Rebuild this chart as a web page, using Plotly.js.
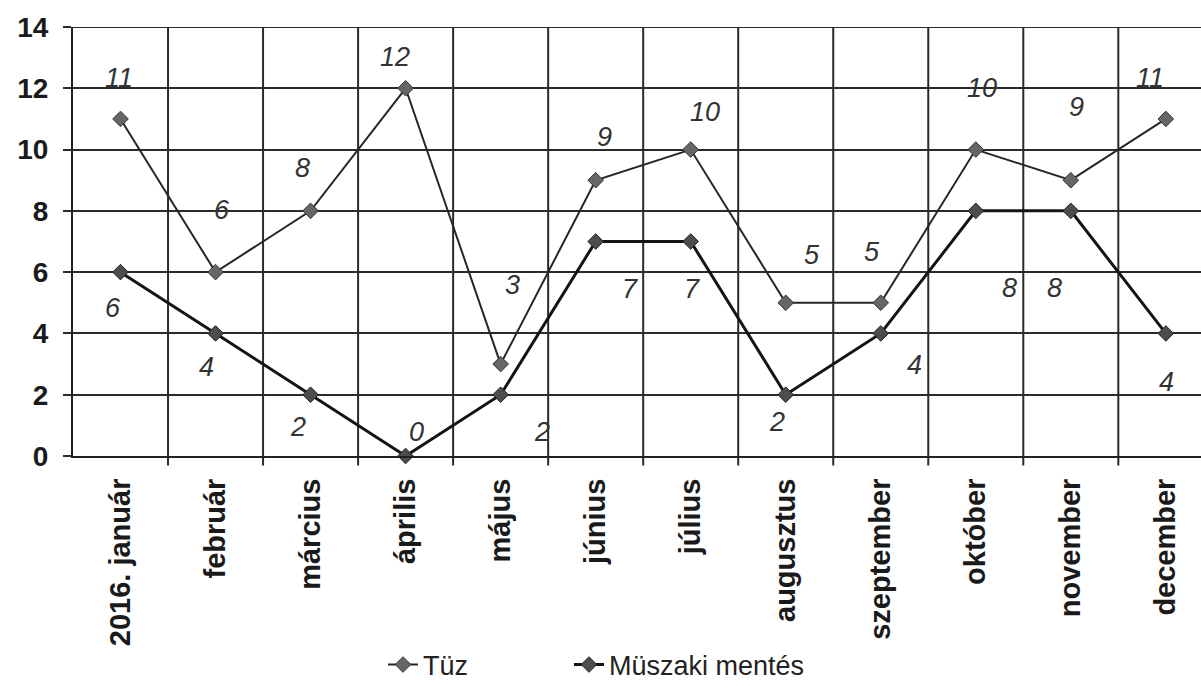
<!DOCTYPE html>
<html>
<head>
<meta charset="utf-8">
<script src="https://cdn.plot.ly/plotly-3.0.1.min.js"></script>
<style>html,body{margin:0;padding:0;background:#fff;}#chart{width:1201px;height:691px;}</style>
</head>
<body>
<div id="chart"></div>
<script>
// ---- data ----
const months = ["2016. január","február","március","április","május","június","július","augusztus","szeptember","október","november","december"];
const tuzValues = [11, 6, 8, 12, 3, 9, 10, 5, 5, 10, 9, 11];
const muszakiValues = [6, 4, 2, 0, 2, 7, 7, 2, 4, 8, 8, 4];
const seriesNames = ["Tüz", "Müszaki mentés"];
const yTicks = [0, 2, 4, 6, 8, 10, 12, 14];

// ---- label offsets (pixels, style only) ----
const tuzLabelShift = [[-2,41],[6,62],[-8,43],[-11,31],[12,79],[9,43],[14,38],[26,48],[-9,51],[6,62],[6,73],[-16,41]];
const muszakiLabelShift = [[-8,-36],[-9,-34],[-13,-32],[11,24],[41,-37],[34,-47],[1,-47],[-9,-27],[34,-32],[34,-77],[-16,-77],[1,-49]];

const FONT = "Liberation Sans, Arial, sans-serif";
const idx = months.map((m, i) => i);

const traces = [
  {
    type: "scatter", mode: "lines+markers", name: seriesNames[0], legend: "legend",
    x: idx, y: tuzValues, cliponaxis: false,
    line: {color: "#262626", width: 2},
    marker: {symbol: "diamond", size: 12, color: "#666", line: {color: "#333", width: 1}}
  },
  {
    type: "scatter", mode: "lines+markers", name: seriesNames[1], legend: "legend2",
    x: idx, y: muszakiValues, cliponaxis: false,
    line: {color: "#141414", width: 3},
    marker: {symbol: "diamond", size: 12, color: "#4a4f4a", line: {color: "#222", width: 1}}
  }
];

const annotations = [];
function addLabels(vals, shifts) {
  vals.forEach((v, i) => {
    annotations.push({
      x: i, y: v, xref: "x", yref: "y", text: String(v), showarrow: false,
      xanchor: "center", yanchor: "middle",
      xshift: shifts[i][0], yshift: shifts[i][1],
      font: {family: FONT, size: 27, color: "#333", style: "italic"}
    });
  });
}
addLabels(tuzValues, tuzLabelShift);
addLabels(muszakiValues, muszakiLabelShift);

const plotW = 1201 - 73;
const plotH = 691 - 27 - 235;
const legendFont = {family: FONT, size: 27, color: "#222"};

const layout = {
  width: 1201, height: 691,
  margin: {l: 73, r: 0, t: 27, b: 235},
  paper_bgcolor: "#fff", plot_bgcolor: "#fff",
  showlegend: true,
  legend: {
    orientation: "h", xref: "paper", yref: "paper",
    x: (383 - 73) / plotW, y: -(665 - 456) / plotH,
    xanchor: "left", yanchor: "middle",
    font: legendFont, bgcolor: "rgba(0,0,0,0)"
  },
  legend2: {
    orientation: "h", xref: "paper", yref: "paper",
    x: (569 - 73) / plotW, y: -(665 - 456) / plotH,
    xanchor: "left", yanchor: "middle",
    font: legendFont, bgcolor: "rgba(0,0,0,0)"
  },
  xaxis: {
    type: "linear",
    range: [-0.5, 11.37],
    tickmode: "array", tickvals: idx, ticktext: months,
    tickangle: -90,
    tickfont: {family: FONT, size: 29, color: "#1a1a1a", weight: "bold"},
    showgrid: false, zeroline: false,
    showline: true, linecolor: "#222", linewidth: 2,
    ticks: "", ticklabelstandoff: 9,
    fixedrange: true
  },
  yaxis: {
    range: [0, 14],
    tickmode: "array", tickvals: yTicks, ticktext: yTicks.map(String),
    tickfont: {family: FONT, size: 28, color: "#1a1a1a", weight: "bold"},
    showgrid: true, gridcolor: "#2a2a2a", gridwidth: 2,
    zeroline: false,
    showline: true, linecolor: "#222", linewidth: 2,
    ticks: "outside", ticklen: 8, tickwidth: 2, tickcolor: "#2a2a2a",
    ticklabelstandoff: 9,
    fixedrange: true
  },
  shapes: [],
  annotations: annotations
};

// vertical grid lines at category boundaries
for (let k = 0; k <= months.length; k++) {
  layout.shapes.push({
    type: "line", xref: "x", yref: "paper",
    x0: k + 0.5, x1: k + 0.5, y0: -0.022, y1: 1,
    line: {color: "#2a2a2a", width: 2}, layer: "below"
  });
}
// top gridline at the axis maximum
layout.shapes.push({
  type: "line", xref: "paper", yref: "y",
  x0: 0, x1: 1, y0: yTicks[yTicks.length - 1], y1: yTicks[yTicks.length - 1],
  line: {color: "#2a2a2a", width: 2}, layer: "below"
});

Plotly.newPlot("chart", traces, layout, {displayModeBar: false, staticPlot: true});
</script>
</body>
</html>
